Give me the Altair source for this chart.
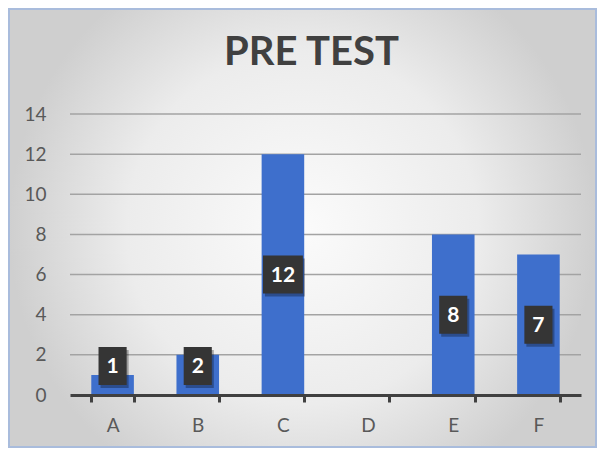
import altair as alt
import pandas as pd

categories = ["A", "B", "C", "D", "E", "F"]
values = [1, 2, 12, 0, 8, 7]
y_ticks = [0, 2, 4, 6, 8, 10, 12, 14]

df = pd.DataFrame({"cat": categories, "val": values})
df["lab"] = df["val"].astype(str)
grid_df = pd.DataFrame({"t": y_ticks[1:]})

W, H = 511, 281

# background panel (decoration)
bg = alt.Chart(pd.DataFrame({"k": [0]})).mark_rect(
    fill={"gradient": "radial",
          "stops": [{"offset": 0, "color": "#fbfbfb"},
                    {"offset": 0.6, "color": "#ececec"},
                    {"offset": 1, "color": "#cfcfcf"}]},
    stroke="#a9bcdc", strokeWidth=2,
).encode(x=alt.value(-61), x2=alt.value(W + 15), y=alt.value(-105), y2=alt.value(H + 52))

yscale = alt.Scale(domain=[0, 14])

grid = alt.Chart(grid_df).mark_rule(color="#a3a3a3", strokeWidth=1.5).encode(
    y=alt.Y("t:Q", scale=yscale),
    x=alt.value(0), x2=alt.value(W),
)

xenc = alt.X("cat:N", sort=categories, title=None,
             scale=alt.Scale(paddingInner=0.5, paddingOuter=0.25),
             axis=alt.Axis(labelAngle=0, domainColor="#404040", domainWidth=3,
                           tickColor="#404040", tickWidth=3, tickSize=7,
                           tickBand="extent", labelFontSize=19, labelColor="#595959",
                           labelFont="Lato", labelPadding=14, grid=False, zindex=1))

bars = alt.Chart(df).mark_bar(color="#3E6FCC").encode(
    x=xenc,
    y=alt.Y("val:Q", title=None, scale=yscale,
            axis=alt.Axis(values=y_ticks, domain=False, ticks=False, grid=False, zindex=1,
                          labelFontSize=19, labelColor="#595959", labelFont="Lato",
                          labelPadding=24)),
)

p1 = "M-0.74,-1 L0.74,-1 L0.74,1 L-0.74,1 Z"
p2 = "M-1.05,-1 L1.05,-1 L1.05,1 L-1.05,1 Z"

base_lab = alt.Chart(df).transform_filter("datum.val > 0").transform_calculate(
    pos="max(datum.val / 2, 1.45)",
    w="length(datum.lab) > 1 ? 'wide' : 'narrow'",
)

shape_enc = alt.Shape("w:N", scale=alt.Scale(domain=["narrow", "wide"], range=[p1, p2]), legend=None)

shadow = base_lab.mark_point(filled=True, opacity=0.3, color="#000000", xOffset=2, yOffset=3).encode(
    x=alt.X("cat:N", sort=categories),
    y=alt.Y("pos:Q", scale=yscale),
    shape=shape_enc,
    size=alt.value(1444),
)

boxes = base_lab.mark_point(filled=True, opacity=1, color="#353535").encode(
    x=alt.X("cat:N", sort=categories),
    y=alt.Y("pos:Q", scale=yscale),
    shape=shape_enc,
    size=alt.value(1444),
)

texts = base_lab.mark_text(color="white", fontSize=21, fontWeight="bold",
                           font="Lato", baseline="middle", dy=1).encode(
    x=alt.X("cat:N", sort=categories),
    y=alt.Y("pos:Q", scale=yscale),
    text="lab:N",
)

chart = alt.layer(bg, grid, bars, shadow, boxes, texts).properties(
    width=W, height=H,
    title=alt.Title("PRE TEST", fontSize=40, font="Lato", fontWeight="bold",
                    color="#404040", anchor="middle", dx=-14, offset=-65),
    autosize=alt.AutoSizeParams(type="none"),
    padding={"left": 62, "top": 106, "right": 16, "bottom": 53},
).configure_view(stroke=None).configure(background="#e3e3e3")

chart.save("out.html", embed_options={"renderer": "svg", "actions": False})
